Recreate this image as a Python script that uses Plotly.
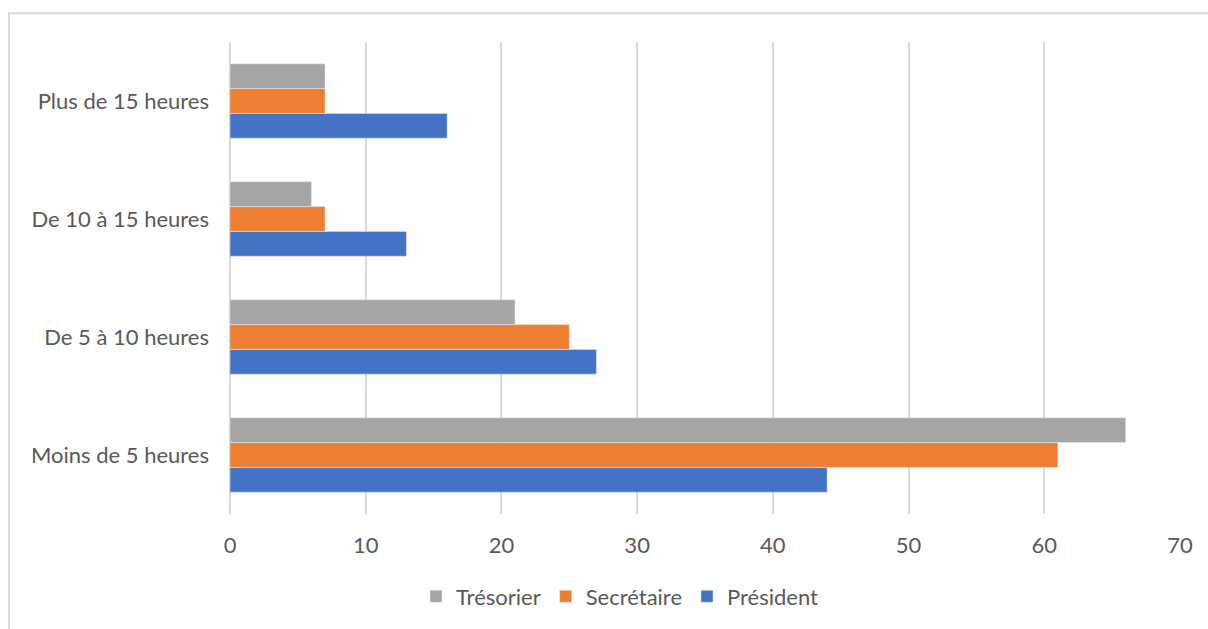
import plotly.graph_objects as go

categories = ["Moins de 5 heures", "De 5 à 10 heures", "De 10 à 15 heures", "Plus de 15 heures"]
president = [44, 27, 13, 16]
secretaire = [61, 25, 7, 7]
tresorier = [66, 21, 6, 7]

fig = go.Figure()
fig.add_trace(go.Bar(y=categories, x=president, name="Président", orientation="h", marker_color="#4472C4"))
fig.add_trace(go.Bar(y=categories, x=secretaire, name="Secrétaire", orientation="h", marker_color="#ED7D31"))
fig.add_trace(go.Bar(y=categories, x=tresorier, name="Trésorier", orientation="h", marker_color="#A5A5A5"))

W, H = 1208, 629
L, T, R, B = 230, 42, 1208 - 1180, 629 - 517
pw, ph = W - L - R, H - T - B

def px(x):
    return (x - L) / pw

def py(y):
    return (H - B - y) / ph

line_style = dict(color="#D9D9D9", width=2)
fig.update_layout(
    width=W, height=H,
    margin=dict(l=L, r=R, t=T, b=B),
    barmode="group", bargap=0.37, bargroupgap=0,
    paper_bgcolor="white", plot_bgcolor="white",
    font=dict(family="Lato, Open Sans, sans-serif", size=22, color="#595959"),
    xaxis=dict(range=[0, 70], dtick=10, showgrid=True, gridcolor="#D9D9D9", gridwidth=1.5,
               zeroline=True, zerolinecolor="#D9D9D9", zerolinewidth=1.5,
               showline=False, ticks="", ticklabelstandoff=16, fixedrange=True),
    yaxis=dict(showgrid=False, showline=False, ticks="", ticklabelstandoff=20,
               categoryorder="array", categoryarray=categories, fixedrange=True),
    legend=dict(orientation="h", traceorder="reversed", x=px(620), y=py(600),
                xanchor="center", yanchor="middle", bgcolor="rgba(0,0,0,0)",
                font=dict(size=22, color="#595959")),
    shapes=[
        dict(type="line", xref="paper", yref="paper",
             x0=px(8), x1=px(1210), y0=py(13), y1=py(13), line=line_style, layer="below"),
        dict(type="line", xref="paper", yref="paper",
             x0=px(9), x1=px(9), y0=py(12), y1=py(640), line=line_style, layer="below"),
    ],
    showlegend=True,
)

fig.write_html("out.html",
               config={"displayModeBar": False},
               post_script="document.body.style.margin='0';document.body.style.overflow='hidden';")
